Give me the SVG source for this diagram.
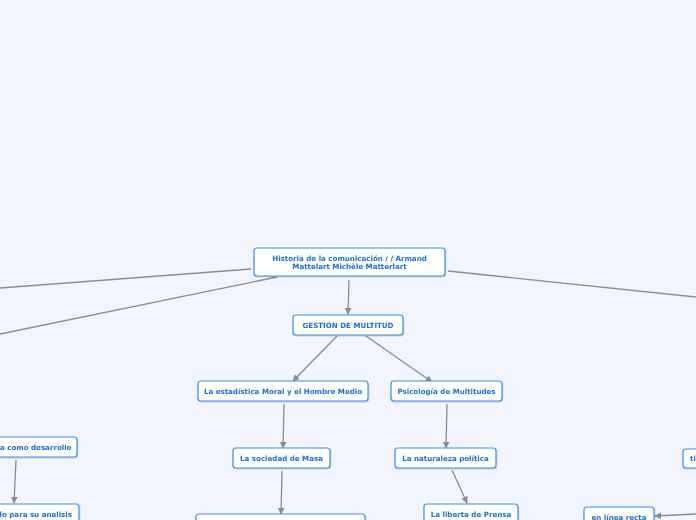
<svg xmlns="http://www.w3.org/2000/svg" width="696" height="520" viewBox="0 0 696 520">
<style>
.n rect{fill:#ffffff;stroke:#3d8ee6;stroke-width:1.2}
.n text{font-family:"DejaVu Sans",Verdana,sans-serif;font-weight:bold;font-size:7.1px;fill:#1a6fd6;text-anchor:middle}
.c line{stroke:#8c8c8c;stroke-width:1.3;fill:none}
</style>
<defs>
<marker id="ah" viewBox="0 0 10 10" refX="9" refY="5" markerWidth="7" markerHeight="7" markerUnits="userSpaceOnUse" orient="auto">
<path d="M0,0 L10,5 L0,10 z" fill="#8c8c8c"/>
</marker>
<filter id="sh" x="-10%" y="-30%" width="120%" height="160%">
<feDropShadow dx="0.5" dy="1" stdDeviation="0.6" flood-color="#000" flood-opacity="0.18"/>
</filter>
</defs>
<rect width="696" height="520" fill="#f2f5fd"/>
<g class="c" id="connectors">
<line x1="251" y1="269" x2="0" y2="288"/>
<line x1="277" y1="277" x2="0" y2="334"/>
<line x1="448" y1="271" x2="696" y2="297"/>
<line x1="349" y1="280" x2="348" y2="314" marker-end="url(#ah)"/>
<line x1="337" y1="336" x2="293" y2="381" marker-end="url(#ah)"/>
<line x1="366" y1="336" x2="432" y2="382" marker-end="url(#ah)"/>
<line x1="284" y1="404" x2="283" y2="448" marker-end="url(#ah)"/>
<line x1="447" y1="404" x2="446" y2="448" marker-end="url(#ah)"/>
<line x1="452" y1="470" x2="467" y2="503" marker-end="url(#ah)"/>
<line x1="282" y1="471" x2="281" y2="514" marker-end="url(#ah)"/>
<line x1="16" y1="460" x2="14" y2="503" marker-end="url(#ah)"/>
<line x1="696" y1="514" x2="655" y2="516" marker-end="url(#ah)"/>
</g>
<g class="n" id="root" filter="url(#sh)"><rect x="254" y="248" width="191" height="28" rx="3"/>
<text x="349.5" y="260.5">Historia de la comunicación / / Armand</text>
<text x="349.5" y="269">Mattelart Michèle Matterlart</text></g>
<g class="n" id="gestion" filter="url(#sh)"><rect x="293" y="315" width="110" height="20" rx="3"/><text x="348" y="327.5">GESTIÓN DE MULTITUD</text></g>
<g class="n" id="estadistica" filter="url(#sh)"><rect x="198" y="381" width="170" height="20" rx="3"/><text x="283" y="393.5">La estadística Moral y el Hombre Medio</text></g>
<g class="n" id="psicologia" filter="url(#sh)"><rect x="391" y="381" width="111" height="20" rx="3"/><text x="446.5" y="393.5">Psicología de Multitudes</text></g>
<g class="n" id="sociedad" filter="url(#sh)"><rect x="233" y="448" width="97" height="20" rx="3"/><text x="281.5" y="460.5">La sociedad de Masa</text></g>
<g class="n" id="naturaleza" filter="url(#sh)"><rect x="395" y="448" width="101" height="20" rx="3"/><text x="445.5" y="460.5">La naturaleza política</text></g>
<g class="n" id="liberta" filter="url(#sh)"><rect x="424" y="504" width="94" height="20" rx="3"/><text x="471" y="516.5">La liberta de Prensa</text></g>
<g class="n" id="bottom" filter="url(#sh)"><rect x="196" y="514" width="169" height="20" rx="3"/></g>
<g class="n" id="desarrollo" filter="url(#sh)"><rect x="-40" y="437" width="117" height="20" rx="3"/><text x="71.5" y="449.5" style="text-anchor:end">a como desarrollo</text></g>
<g class="n" id="analisis" filter="url(#sh)"><rect x="-40" y="504" width="119" height="20" rx="3"/><text x="72" y="516.5" style="text-anchor:end">lo para su analisis</text></g>
<g class="n" id="ti" filter="url(#sh)"><rect x="683" y="449" width="60" height="19" rx="3"/><text x="690" y="461" style="text-anchor:start">ti</text></g>
<g class="n" id="linea" filter="url(#sh)"><rect x="584" y="507" width="70" height="20" rx="3"/><text x="619" y="519.5">en línea recta</text></g>
</svg>
